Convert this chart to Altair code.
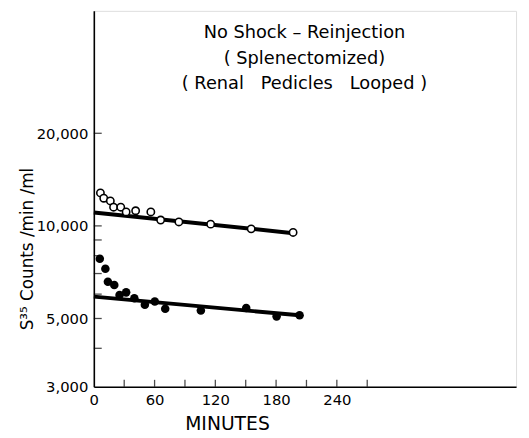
import altair as alt
import pandas as pd

# Open circles (upper series)
open_min = [6.5, 9.8, 16.3, 19.5, 26.6, 31.9, 41.3, 56.3, 66, 84, 115.4, 155.4, 196.8]
open_cnt = [12800, 12300, 12050, 11500, 11500, 11100, 11200, 11100, 10450, 10300, 10130, 9780, 9520]

# Filled circles (lower series)
fill_min = [5.9, 11.4, 13.9, 20.2, 25.4, 31.9, 40, 50.4, 60.2, 70.5, 105.7, 150.5, 180.5, 203.2]
fill_cnt = [7820, 7260, 6580, 6420, 5960, 6080, 5820, 5540, 5680, 5380, 5310, 5410, 5080, 5120]

# Fitted lines (endpoints)
open_fit_min = [0, 197]
open_fit_cnt = [11060, 9470]
fill_fit_min = [0, 203]
fill_fit_cnt = [5890, 5120]

x_labels = [0, 60, 120, 180, 240]
x_ticks = [30, 60, 90, 120, 150, 180, 210, 240, 270]
y_labels = [3000, 5000, 10000, 20000]
y_ticks = [4000, 5000, 6000, 7000, 8000, 9000, 10000, 20000]

title_lines = ["No Shock \u2013 Reinjection",
               "( Splenectomized)",
               "( Renal\u00a0\u00a0 Pedicles\u00a0\u00a0 Looped )"]

FONT = "DejaVu Sans"

xs = alt.Scale(domain=[0, 417], nice=False, zero=False)
ys = alt.Scale(type="log", domain=[3000, 50000], nice=False)

df_open = pd.DataFrame({"min": open_min, "cnt": open_cnt})
df_fill = pd.DataFrame({"min": fill_min, "cnt": fill_cnt})
df_fit = pd.DataFrame({
    "min": open_fit_min + fill_fit_min,
    "cnt": open_fit_cnt + fill_fit_cnt,
    "series": ["open"] * 2 + ["filled"] * 2,
})
df_xt = pd.DataFrame({"t": x_ticks})
df_yt = pd.DataFrame({"t": y_ticks})

x_enc = alt.X("min:Q", scale=xs, axis=alt.Axis(
    values=x_labels, ticks=False, labelPadding=6, labelFontSize=15, labelFont=FONT,
    labelColor="black", domainColor="black", domainWidth=1.6, grid=False,
    title="MINUTES", titleFont=FONT, titleFontSize=19, titleFontWeight="normal",
    titleColor="black", titleX=135, titleY=43, titleAlign="center", titleBaseline="alphabetic",
    labelFlush=False))
y_enc = alt.Y("cnt:Q", scale=ys, axis=alt.Axis(
    values=y_labels, format=",d", ticks=False, labelPadding=6, labelFontSize=15, labelFont=FONT,
    labelColor="black", domainColor="black", domainWidth=1.6, grid=False,
    title="S\u00b3\u2075 Counts /min /ml", titleFont=FONT, titleFontSize=17,
    titleFontWeight="normal", titleColor="black", titleX=-62, titleY=241,
    titleAngle=-90, titleAlign="center", titleBaseline="alphabetic"))

fit = alt.Chart(df_fit).mark_line(color="black", strokeWidth=4).encode(
    x=x_enc, y=y_enc, detail="series:N")

pts_open = alt.Chart(df_open).mark_point(
    shape="circle", filled=True, fill="white", stroke="black", strokeWidth=1.6,
    size=55, opacity=1).encode(x="min:Q", y="cnt:Q")

pts_fill = alt.Chart(df_fill).mark_circle(color="black", size=75, opacity=1).encode(
    x="min:Q", y="cnt:Q")

xt = alt.Chart(df_xt).mark_tick(orient="vertical", color="black", size=7, thickness=1.3,
                                yOffset=-3.5).encode(
    x=alt.X("t:Q", scale=xs), y=alt.datum(3000, scale=ys))

yt = alt.Chart(df_yt).mark_tick(orient="horizontal", color="black", size=8, thickness=1.3,
                                xOffset=4).encode(
    y=alt.Y("t:Q", scale=ys), x=alt.datum(0))

ann = alt.Chart(pd.DataFrame({"a": [0]})).mark_text(
    font=FONT, fontSize=18, color="black", align="center", baseline="alphabetic",
    lineHeight=25.5).encode(
    x=alt.datum(208), y=alt.datum(40700), text=alt.value(title_lines))

chart = alt.layer(fit, pts_open, pts_fill, xt, yt, ann).properties(
    width=428, height=381,
    autosize=alt.AutoSizeParams(type="none"),
    padding={"left": 87, "top": 0, "right": 5, "bottom": 45},
).configure_view(stroke=None).configure(background="white")

chart.save("out.html", embed_options={"renderer": "svg", "actions": False})
